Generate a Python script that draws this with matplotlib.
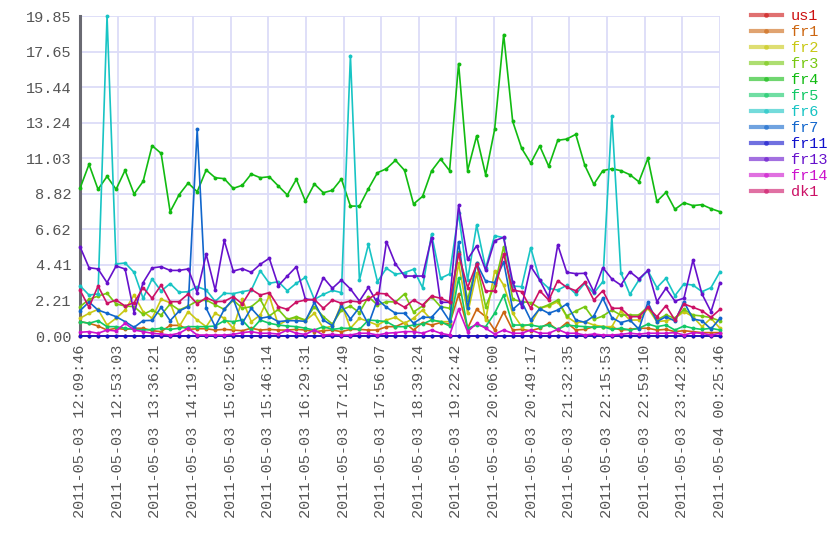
import matplotlib
matplotlib.use("Agg")
import matplotlib.pyplot as plt
from matplotlib.lines import Line2D

series_names = ["us1", "fr1", "fr2", "fr3", "fr4", "fr5", "fr6", "fr7", "fr11", "fr13", "fr14", "dk1"]
colors = ["#cc1111", "#cc6611", "#c8c814", "#77c811", "#11bb11", "#11c866", "#18c4c4",
          "#1166cc", "#1111cc", "#6611cc", "#cc11cc", "#cc1166"]

us1 = [0.0, 0.0, 0.0, 0.0, 0.0, 0.0, 0.0, 0.0, 0.0, 0.0, 0.0, 0.0, 0.0, 0.0, 0.0, 0.0, 0.0, 0.0,
       0.0, 0.0, 0.0, 0.0, 0.0, 0.0, 0.0, 0.0, 0.0, 0.0, 0.0, 0.0, 0.0, 0.0, 0.0, 0.0, 0.0, 0.0,
       0.0, 0.0, 0.0, 0.0, 0.0, 0.0, 0.0, 0.0, 0.0, 0.0, 0.0, 0.0, 0.0, 0.0, 0.0, 0.0, 0.0, 0.0,
       0.0, 0.0, 0.0, 0.0, 0.0, 0.0, 0.0, 0.0, 0.0, 0.0, 0.0, 0.0, 0.0, 0.0, 0.0, 0.0, 0.0, 0.0]
fr1 = [0.89, 0.79, 0.62, 0.37, 0.48, 0.41, 0.48, 0.48, 0.33, 0.27,
       0.66, 0.66, 0.41, 0.45, 0.45, 0.37, 0.41, 0.37, 0.33, 0.48,
       0.37, 0.41, 0.37, 0.37, 0.41, 0.37, 0.27, 0.33, 0.37, 0.27,
       0.41, 0.41, 0.37, 0.37, 0.58, 0.58, 0.83, 0.37, 0.83, 0.68,
       0.83, 0.74, 2.58, 0.48, 1.65, 1.20, 0.37, 1.49, 0.37, 0.41,
       0.33, 0.48, 0.79, 0.37, 0.83, 0.37, 0.41, 0.58, 0.58, 0.54,
       0.37, 0.41, 0.48, 0.48, 0.37, 0.41, 0.27, 0.33, 0.27, 0.21,
       0.21, 0.21]
fr2 = [1.10, 1.41, 1.65, 0.68, 1.10, 1.61, 2.54, 1.51, 1.10, 2.27,
       2.07, 0.58, 1.51, 0.99, 0.58, 1.41, 1.10, 0.48, 2.27, 0.89,
       1.30, 2.50, 0.68, 0.99, 1.14, 0.95, 1.41, 0.48, 0.62, 1.99,
       0.48, 1.10, 0.89, 0.68, 0.99, 1.16, 0.79, 1.10, 1.61, 0.99,
       0.89, 0.89, 4.51, 1.41, 3.89, 0.99, 4.03, 3.16, 1.41, 0.58,
       0.74, 1.72, 1.86, 2.13, 1.20, 0.83, 0.89, 0.68, 0.58, 0.58,
       1.55, 0.99, 0.99, 1.72, 0.89, 0.95, 1.10, 1.51, 1.20, 0.58,
       1.10, 0.48]
fr3 = [1.82, 2.27, 2.48, 2.65, 1.99, 1.86, 1.82, 1.34, 1.61, 1.30,
       1.99, 1.61, 1.86, 2.17, 2.23, 1.94, 1.65, 2.23, 1.72, 1.82,
       2.27, 1.24, 1.65, 1.03, 1.20, 0.99, 1.82, 1.20, 0.74, 1.61,
       1.86, 1.45, 2.44, 1.92, 2.13, 2.11, 2.61, 1.49, 1.86, 2.44,
       1.82, 1.72, 5.23, 2.23, 4.51, 1.82, 3.16, 5.54, 2.27, 2.13,
       2.07, 1.72, 1.94, 2.23, 1.24, 1.55, 1.82, 1.03, 1.24, 1.61,
       1.30, 1.30, 1.30, 1.82, 0.99, 1.30, 1.10, 1.65, 1.30, 1.24,
       1.14, 0.93]
fr4 = [9.16, 10.65, 9.10, 9.90, 9.10, 10.28, 8.81, 9.59, 11.81, 11.33,
       7.71, 8.77, 9.49, 8.95, 10.30, 9.82, 9.76, 9.16, 9.35, 10.05,
       9.82, 9.88, 9.31, 8.75, 9.72, 8.37, 9.43, 8.89, 9.04, 9.74,
       8.06, 8.06, 9.14, 10.13, 10.38, 10.90, 10.28, 8.19, 8.66, 10.24,
       10.98, 10.26, 16.90, 10.26, 12.41, 10.01, 12.82, 18.70, 13.32, 11.64,
       10.73, 11.79, 10.53, 12.14, 12.22, 12.51, 10.59, 9.41, 10.26, 10.38,
       10.26, 10.01, 9.57, 11.02, 8.35, 8.91, 7.86, 8.27, 8.09, 8.15,
       7.90, 7.71]
fr5 = [0.89, 0.79, 0.95, 0.58, 0.58, 0.48, 0.41, 0.37, 0.41, 0.48,
       0.41, 0.48, 0.58, 0.58, 0.58, 0.62, 0.95, 0.89, 0.99, 0.37,
       0.99, 0.79, 0.68, 0.62, 0.58, 0.48, 0.37, 0.58, 0.41, 0.48,
       0.48, 0.41, 0.99, 0.95, 0.89, 0.58, 0.58, 0.68, 0.74, 0.99,
       0.89, 0.62, 3.58, 0.48, 0.68, 0.58, 1.41, 2.54, 0.68, 0.68,
       0.68, 0.58, 0.68, 0.41, 0.68, 0.62, 0.58, 0.54, 0.58, 0.41,
       0.48, 0.37, 0.48, 0.74, 0.58, 0.68, 0.37, 0.62, 0.48, 0.41,
       0.48, 0.37]
fr6 = [3.12, 2.54, 2.61, 19.854, 4.47, 4.53, 3.95, 2.34, 3.54, 2.79,
       3.25, 2.71, 2.75, 3.06, 2.85, 2.15, 2.65, 2.63, 2.75, 2.85,
       4.05, 3.27, 3.37, 2.81, 3.27, 3.64, 2.27, 2.58, 2.83, 2.69,
       17.40, 3.47, 5.69, 3.37, 4.20, 3.83, 3.93, 4.14, 3.00, 6.31,
       3.58, 3.85, 7.61, 3.47, 6.87, 4.20, 6.22, 6.10, 3.10, 3.06,
       5.48, 3.47, 2.96, 2.85, 3.14, 2.61, 3.27, 2.65, 3.37, 13.65,
       3.93, 2.58, 3.47, 4.05, 3.00, 3.58, 2.50, 3.23, 3.16, 2.75,
       3.00, 3.99]
fr7 = [1.57, 2.11, 1.61, 1.41, 1.20, 0.89, 0.54, 0.95, 0.97, 1.78,
       0.95, 1.55, 1.82, 12.82, 1.72, 0.58, 1.65, 2.30, 0.79, 1.72,
       1.10, 1.20, 0.89, 0.95, 0.95, 0.91, 2.09, 0.99, 0.64, 1.88,
       1.05, 1.78, 0.72, 2.27, 1.78, 1.41, 1.41, 0.79, 1.16, 1.16,
       1.78, 0.93, 5.85, 1.72, 4.51, 3.41, 3.31, 4.61, 1.65, 2.13,
       0.99, 1.70, 1.41, 1.61, 1.99, 0.99, 0.85, 1.24, 2.34, 1.14,
       0.83, 0.99, 0.43, 2.09, 0.89, 1.20, 0.93, 2.13, 1.05, 0.95,
       0.43, 1.10]
fr11 = [0.0, 0.0, 0.0, 0.0, 0.0, 0.0, 0.0, 0.0, 0.0, 0.0, 0.0, 0.0, 0.0, 0.0, 0.0, 0.0, 0.0, 0.0,
        0.0, 0.0, 0.0, 0.0, 0.0, 0.0, 0.0, 0.0, 0.0, 0.0, 0.0, 0.0, 0.0, 0.0, 0.0, 0.0, 0.0, 0.0,
        0.0, 0.0, 0.0, 0.0, 0.0, 0.0, 0.0, 0.0, 0.0, 0.0, 0.0, 0.0, 0.0, 0.0, 0.0, 0.0, 0.0, 0.0,
        0.0, 0.0, 0.0, 0.0, 0.0, 0.0, 0.0, 0.0, 0.0, 0.0, 0.0, 0.0, 0.0, 0.0, 0.0, 0.0, 0.0, 0.0]
fr13 = [5.54, 4.24, 4.16, 3.31, 4.34, 4.16, 1.45, 3.31, 4.22, 4.30,
        4.07, 4.07, 4.16, 2.69, 5.07, 2.85, 5.93, 4.03, 4.18, 3.95,
        4.45, 4.82, 3.12, 3.72, 4.30, 2.30, 2.23, 3.62, 2.96, 3.47,
        2.92, 2.17, 3.02, 2.03, 5.85, 4.47, 3.72, 3.72, 3.72, 6.10,
        2.09, 2.09, 8.11, 4.76, 5.60, 4.09, 5.91, 6.12, 3.37, 1.82,
        4.32, 3.47, 2.40, 5.65, 3.95, 3.87, 3.89, 2.75, 4.24, 3.54,
        3.16, 3.99, 3.54, 4.07, 2.13, 2.96, 2.17, 2.34, 4.71, 2.61,
        1.51, 3.31]
fr14 = [0.23, 0.27, 0.17, 0.37, 0.31, 0.79, 0.37, 0.27, 0.17, 0.12,
        0.06, 0.17, 0.48, 0.06, 0.06, 0.06, 0.06, 0.10, 0.21, 0.27,
        0.17, 0.17, 0.12, 0.37, 0.17, 0.10, 0.37, 0.06, 0.10, 0.06,
        0.06, 0.17, 0.17, 0.06, 0.17, 0.21, 0.27, 0.27, 0.17, 0.37,
        0.17, 0.06, 1.65, 0.27, 0.79, 0.48, 0.12, 0.37, 0.17, 0.17,
        0.37, 0.17, 0.17, 0.41, 0.17, 0.17, 0.06, 0.12, 0.06, 0.06,
        0.10, 0.17, 0.12, 0.17, 0.17, 0.17, 0.21, 0.06, 0.21, 0.17,
        0.06, 0.17]
dk1 = [2.85, 1.78, 3.10, 2.03, 2.23, 1.86, 2.07, 3.00, 2.34, 3.16,
       2.13, 2.13, 2.61, 1.99, 2.38, 2.13, 2.15, 2.44, 1.99, 2.89,
       2.54, 2.69, 1.82, 1.65, 2.11, 2.23, 2.27, 1.72, 2.23, 2.03,
       2.17, 2.11, 2.30, 2.65, 2.61, 2.11, 1.78, 2.23, 1.92, 2.48,
       2.34, 2.11, 5.09, 3.00, 4.45, 2.79, 2.79, 5.09, 2.85, 2.75,
       1.72, 2.81, 2.23, 3.43, 3.02, 2.81, 3.33, 2.23, 2.81, 1.72,
       1.72, 1.20, 1.20, 1.78, 1.20, 1.88, 0.99, 1.99, 1.78, 1.57,
       1.16, 1.65]

tick_labels = ["2011-05-03 12:09:46", "2011-05-03 12:53:03", "2011-05-03 13:36:21",
               "2011-05-03 14:19:38", "2011-05-03 15:02:56", "2011-05-03 15:46:14",
               "2011-05-03 16:29:31", "2011-05-03 17:12:49", "2011-05-03 17:56:07",
               "2011-05-03 18:39:24", "2011-05-03 19:22:42", "2011-05-03 20:06:00",
               "2011-05-03 20:49:17", "2011-05-03 21:32:35", "2011-05-03 22:15:53",
               "2011-05-03 22:59:10", "2011-05-03 23:42:28", "2011-05-04 00:25:46"]
y_max = 19.854

data = [us1, fr1, fr2, fr3, fr4, fr5, fr6, fr7, fr11, fr13, fr14, dk1]

plt.rcParams['font.family'] = ['Liberation Mono', 'DejaVu Sans Mono']

fig = plt.figure(figsize=(8.4, 5.6), dpi=100)
ax = fig.add_axes([80/840, 1-336/560, 640/840, 320/560])

n = len(fr4)
x = list(range(n))
for name, vals, c in zip(series_names, data, colors):
    ax.plot(x, vals, color=c, lw=1.2, marker='o', markersize=2.8,
            markeredgewidth=0, label=name, clip_on=False, zorder=3)

ax.set_xlim(0, n - 1)
ax.set_ylim(0, y_max)
nt = len(tick_labels)
xt = [k * (n - 1) / (nt - 1) for k in range(nt)]
ax.set_xticks(xt)
ax.set_xticklabels(tick_labels, rotation=90, fontsize=11, color='#555555')
yt = [k * y_max / 9 for k in range(10)]
ax.set_yticks(yt)
ax.set_yticklabels([f"{v:.2f}" for v in yt], fontsize=11, color='#555555')
ax.tick_params(length=0, pad=6)
ax.grid(True, color='#dcdcf8', lw=1.3, zorder=0)
ax.set_axisbelow(True)
for s in ['top', 'right', 'bottom']:
    ax.spines[s].set_visible(False)
ax.spines['left'].set_color('#6a6a72')
ax.spines['left'].set_linewidth(2.2)

handles = [Line2D([0], [0], color=c, lw=3, alpha=0.6, marker='o', markersize=3.5,
                  markerfacecolor=c, markeredgewidth=0) for c in colors]
leg = fig.legend(handles, series_names, loc='upper left',
                 bbox_to_anchor=(751/840, 1 - 9/560), frameon=False,
                 fontsize=11, handlelength=2.0, handletextpad=0.6,
                 labelspacing=0.13, borderaxespad=0, borderpad=0)
for t, c in zip(leg.get_texts(), colors):
    t.set_color(c)

fig.savefig("out.png", dpi=100)
